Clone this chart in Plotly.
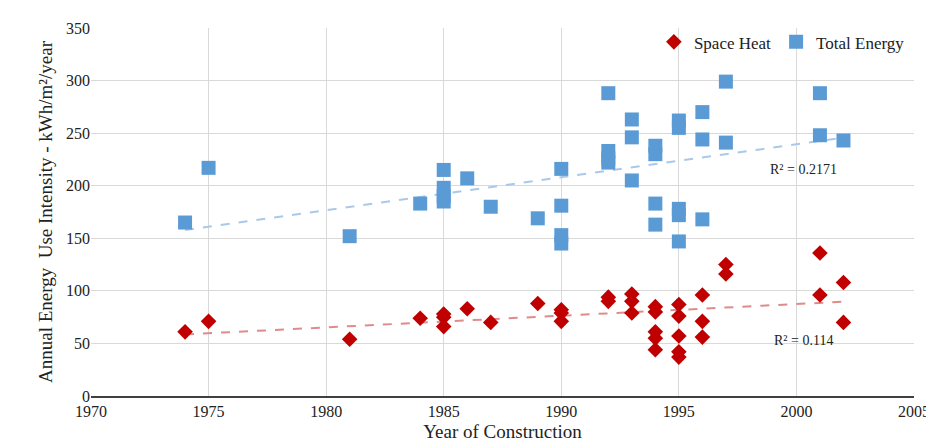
import numpy as np
import plotly.graph_objects as go

# Total energy use intensity (kWh/m2/year)
total_year = [1974, 1975, 1981, 1984, 1985, 1985, 1985, 1985, 1986, 1987, 1989,
              1990, 1990, 1990, 1990, 1992, 1992, 1992, 1992, 1993, 1993, 1993,
              1994, 1994, 1994, 1994, 1995, 1995, 1995, 1995, 1995,
              1996, 1996, 1996, 1997, 1997, 2001, 2001, 2002]
total_eui = [165, 217, 152, 183, 215, 198, 190, 185, 207, 180, 169,
             216, 181, 153, 145, 288, 233, 226, 222, 263, 246, 205,
             238, 230, 183, 163, 262, 255, 178, 172, 147,
             270, 244, 168, 299, 241, 288, 248, 243]

# Space heat intensity
heat_year = [1974, 1975, 1981, 1984, 1985, 1985, 1985, 1986, 1987, 1989,
             1990, 1990, 1990, 1992, 1992, 1993, 1993, 1993,
             1994, 1994, 1994, 1994, 1994, 1995, 1995, 1995, 1995, 1995,
             1996, 1996, 1996, 1997, 1997, 2001, 2001, 2002, 2002]
heat_eui = [61, 71, 54, 74, 78, 75, 66, 83, 70, 88,
            82, 79, 71, 94, 90, 97, 90, 79,
            85, 80, 61, 55, 44, 87, 76, 57, 42, 37,
            96, 71, 56, 125, 116, 136, 96, 108, 70]

font = "Times New Roman, Liberation Serif, serif"

def trend(x, y):
    m, b = np.polyfit(x, y, 1)
    xs = np.array([min(x), max(x)])
    return xs, m * xs + b

fig = go.Figure()

tx, ty = trend(total_year, total_eui)
hx, hy = trend(heat_year, heat_eui)
fig.add_trace(go.Scatter(x=tx, y=ty, mode="lines", showlegend=False,
                         line=dict(color="#a9c9ea", dash="dash", width=2)))
fig.add_trace(go.Scatter(x=hx, y=hy, mode="lines", showlegend=False,
                         line=dict(color="#e08b8b", dash="dash", width=2)))

fig.add_trace(go.Scatter(x=heat_year, y=heat_eui, mode="markers", name="Space Heat",
                         marker=dict(symbol="diamond", size=12, color="#c00000")))
fig.add_trace(go.Scatter(x=total_year, y=total_eui, mode="markers", name="Total Energy",
                         marker=dict(symbol="square", size=14, color="#5b9bd5")))

fig.add_annotation(x=2000.3, y=215, text="R² = 0.2171", showarrow=False,
                   font=dict(family=font, size=14, color="#222"))
fig.add_annotation(x=2000.3, y=53, text="R² = 0.114", showarrow=False,
                   font=dict(family=font, size=14, color="#222"))

fig.update_layout(
    width=934, height=448,
    margin=dict(l=83, r=22, t=15, b=60),
    plot_bgcolor="white", paper_bgcolor="white",
    font=dict(family=font, size=16, color="#222"),
    legend=dict(x=0.995, y=1.01, xanchor="right", yanchor="top", orientation="h",
                font=dict(family=font, size=17), bgcolor="rgba(0,0,0,0)",
                itemwidth=30, tracegroupgap=0),
    xaxis=dict(range=[1970, 2005], dtick=5, showgrid=True, gridcolor="#d9d9d9",
               showline=True, linecolor="#404040", linewidth=1.5, zeroline=False,
               ticks="", tickfont=dict(family=font, size=16),
               title=dict(text="Year of Construction", font=dict(family=font, size=19), standoff=6)),
    yaxis=dict(range=[0, 350], dtick=50, showgrid=True, gridcolor="#d9d9d9",
               zeroline=False, ticks="", tickfont=dict(family=font, size=16),
               title=dict(text="Annual Energy  Use Intensity - kWh/m²/year",
                          font=dict(family=font, size=19), standoff=8)),
)

fig.write_html("out.html")
